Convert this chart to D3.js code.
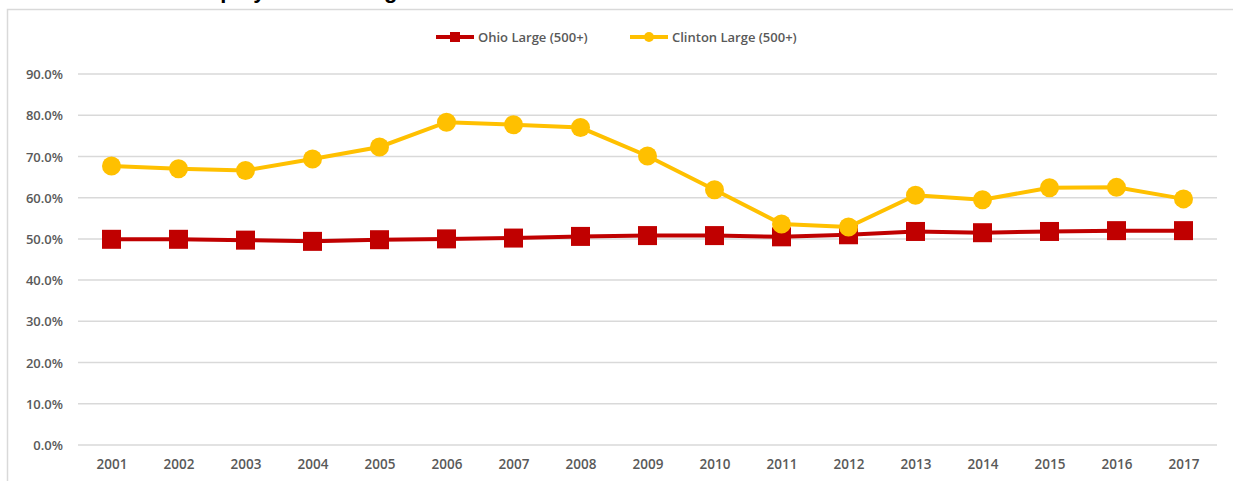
<!DOCTYPE html>
<html>
<head>
<meta charset="utf-8">
<script src="https://cdn.jsdelivr.net/npm/d3@7"></script>
<style>
  html, body { margin: 0; padding: 0; background: #fff; }
  svg { display: block; }
  text { font-family: "Open Sans", "Liberation Sans", Arial, sans-serif; }
</style>
</head>
<body>
<div id="chart"></div>
<script>
// chart data
var years = ['2001','2002','2003','2004','2005','2006','2007','2008','2009',
             '2010','2011','2012','2013','2014','2015','2016','2017'];
var ohioLarge = [0.499, 0.499, 0.497, 0.494, 0.498, 0.500, 0.502, 0.506, 0.508,
                 0.508, 0.505, 0.510, 0.518, 0.515, 0.518, 0.520, 0.520];
var clintonLarge = [0.677, 0.670, 0.666, 0.694, 0.723, 0.783, 0.777, 0.770, 0.701,
                    0.619, 0.536, 0.529, 0.606, 0.595, 0.624, 0.625, 0.597];
var yTicks = [0, 0.1, 0.2, 0.3, 0.4, 0.5, 0.6, 0.7, 0.8, 0.9];
var seriesNames = ['Ohio Large (500+)', 'Clinton Large (500+)'];

(function() {
    'use strict';

    var width = 1233, height = 481;
    var plot = { left: 78, right: 1217, top: 74, bottom: 445 };
    var gray = '#d9d9d9', textColor = '#595959';
    var red = '#c00000', gold = '#ffc000';

    var svg = d3.select('#chart').append('svg')
        .attr('width', width)
        .attr('height', height);

    // title sits above the visible area in the source, only descenders show
    svg.append('text')
        .attr('x', 186)
        .attr('y', -2)
        .style('font-size', '22px')
        .style('font-weight', 'bold')
        .style('font-family', '"Liberation Sans", Arial, sans-serif')
        .style('fill', '#000')
        .text('Employment in Large Establishments');

    // chart frame
    svg.append('rect')
        .attr('x', 7.5)
        .attr('y', 9.5)
        .attr('width', width)
        .attr('height', height)
        .style('fill', '#fff')
        .style('stroke', gray)
        .style('stroke-width', 1.5);

    var x = d3.scalePoint()
        .domain(years)
        .range([plot.left, plot.right])
        .padding(0.5);

    var y = d3.scaleLinear()
        .domain([0, 0.9])
        .range([plot.bottom, plot.top]);

    // gridlines
    svg.append('g')
        .selectAll('line')
        .data(yTicks)
        .enter().append('line')
        .attr('x1', plot.left)
        .attr('x2', plot.right)
        .attr('y1', function(d) { return y(d); })
        .attr('y2', function(d) { return y(d); })
        .style('stroke', gray)
        .style('stroke-width', 1.5);

    // y axis labels
    var yAxis = d3.axisLeft(y)
        .tickValues(yTicks)
        .tickFormat(d3.format('.1%'))
        .tickSize(0)
        .tickPadding(15);
    var yg = svg.append('g')
        .attr('transform', 'translate(' + plot.left + ',0)')
        .call(yAxis);
    yg.select('.domain').remove();
    yg.selectAll('text')
        .attr('dy', '0.35em')
        .style('font-size', '13px')
        .style('font-weight', 600)
        .style('fill', textColor);

    // x axis labels
    var xAxis = d3.axisBottom(x).tickSize(0).tickPadding(14);
    var xg = svg.append('g')
        .attr('transform', 'translate(0,' + plot.bottom + ')')
        .call(xAxis);
    xg.select('.domain').remove();
    xg.selectAll('text')
        .style('font-size', '13.5px')
        .style('font-weight', 600)
        .style('fill', textColor);

    var line = d3.line()
        .x(function(d, i) { return x(years[i]); })
        .y(function(d) { return y(d); });

    // Ohio series
    svg.append('path')
        .datum(ohioLarge)
        .attr('d', line)
        .style('fill', 'none')
        .style('stroke', red)
        .style('stroke-width', 4);

    svg.append('g')
        .selectAll('rect')
        .data(ohioLarge)
        .enter().append('rect')
        .attr('x', function(d, i) { return x(years[i]) - 9.5; })
        .attr('y', function(d) { return y(d) - 9.5; })
        .attr('width', 19)
        .attr('height', 19)
        .style('fill', red);

    // Clinton series
    svg.append('path')
        .datum(clintonLarge)
        .attr('d', line)
        .style('fill', 'none')
        .style('stroke', gold)
        .style('stroke-width', 4);

    svg.append('g')
        .selectAll('circle')
        .data(clintonLarge)
        .enter().append('circle')
        .attr('cx', function(d, i) { return x(years[i]); })
        .attr('cy', function(d) { return y(d); })
        .attr('r', 9.5)
        .style('fill', gold);

    // ── Legend ──
    var legendY = 37;
    var legend = [
        { name: seriesNames[0], color: red, shape: 'square', x: 436 },
        { name: seriesNames[1], color: gold, shape: 'circle', x: 630 }
    ];
    legend.forEach(function(item) {
        var g = svg.append('g').attr('transform', 'translate(' + item.x + ',' + legendY + ')');
        g.append('line')
            .attr('x1', 0).attr('x2', 38)
            .style('stroke', item.color)
            .style('stroke-width', 4);
        if (item.shape === 'square') {
            g.append('rect')
                .attr('x', 14).attr('y', -5)
                .attr('width', 10).attr('height', 10)
                .style('fill', item.color);
        } else {
            g.append('circle')
                .attr('cx', 19).attr('r', 5)
                .style('fill', item.color);
        }
        g.append('text')
            .attr('x', 42)
            .attr('dy', '0.35em')
            .style('font-size', '13px')
            .style('font-weight', 600)
            .style('fill', textColor)
            .text(item.name);
    });
})();
</script>
</body>
</html>
